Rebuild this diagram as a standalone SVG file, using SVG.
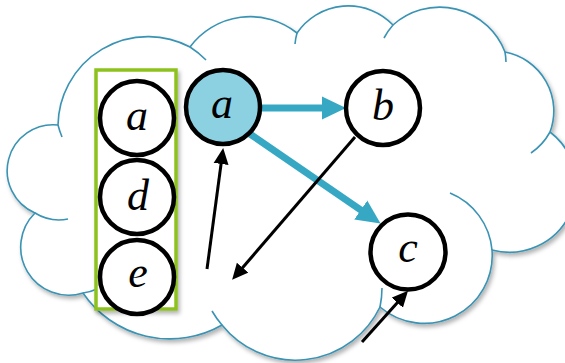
<svg xmlns="http://www.w3.org/2000/svg" width="565" height="363" viewBox="0 0 565 363">
<style>
.cloud{fill:#fff;stroke:#3a93b4;stroke-width:1.6}
.tail{fill:none;stroke:#3a93b4;stroke-width:1.6}
.node{fill:#fff;stroke:#000;stroke-width:4.5}
.hl{fill:#8bd1e2}
.lbl{font-family:"Liberation Serif","Times New Roman",serif;font-style:italic;font-size:44px;fill:#000;text-anchor:middle}
.teal{stroke:#37a8c4;stroke-width:7;fill:none}
.blk{stroke:#000;stroke-width:3;fill:none}
</style>
<defs>
<filter id="sh" x="-10%" y="-10%" width="130%" height="130%">
<feDropShadow dx="2" dy="3" stdDeviation="2" flood-color="#000" flood-opacity="0.3"/>
</filter>
<marker id="mt" markerUnits="userSpaceOnUse" markerWidth="24" markerHeight="24" viewBox="0 0 24 24" refX="10" refY="12" orient="auto">
<path d="M0,0.5 L24,12 L0,23.5 z" fill="#37a8c4"/>
</marker>
<marker id="mb" markerUnits="userSpaceOnUse" markerWidth="16" markerHeight="16" viewBox="0 0 16 16" refX="7" refY="8" orient="auto">
<path d="M0,0.5 L16,8 L0,15.5 z" fill="#000"/>
</marker>
</defs>
<g id="cloud">
<path class="cloud" filter="url(#sh)" d="M58,125 A90,90 0 0 1 190,47 A75,75 0 0 1 297,33 A62,62 0 0 1 393,25 A70,70 0 0 1 505,52 A60,60 0 0 1 550,132 A67,67 0 0 1 492,250 A68,68 0 0 1 380,307 A94,94 0 0 1 222,325 A105,105 0 0 1 83,293 A48,48 0 0 1 35,213 A46,46 0 0 1 58,125 Z"/>
<path class="tail" d="M58,125 A90,90 0 0 0 62,137 M190,47 A90,90 0 0 1 206,60 M297,33 A62,62 0 0 0 295,44 M393,25 A70,70 0 0 0 384,38 M505,52 A70,70 0 0 1 506,62 M550,132 A60,60 0 0 1 531,153 M450,193 A68,68 0 0 1 492,250 M380,307 A94,94 0 0 0 382,288 M222,325 A94,94 0 0 1 212,311 M83,293 A48,48 0 0 0 97,289 M35,213 A46,46 0 0 0 68,219"/>
</g>
<g id="stack">
<rect x="96" y="70" width="80" height="239" fill="#fff" stroke="#8dc21f" stroke-width="3.5" filter="url(#sh)"/>
</g>
<g id="connectors">
<line class="teal" x1="258" y1="108" x2="332" y2="108" marker-end="url(#mt)"/>
<line class="teal" x1="250" y1="134" x2="369" y2="215.7" marker-end="url(#mt)"/>
<line class="blk" x1="207" y1="269" x2="222" y2="157" marker-end="url(#mb)"/>
<line class="blk" x1="355" y1="137" x2="238" y2="273" marker-end="url(#mb)"/>
<line class="blk" x1="362" y1="342" x2="402" y2="297.5" marker-end="url(#mb)"/>
</g>
<g id="node-a1"><circle class="node" cx="137" cy="118" r="37"/><text class="lbl" x="137" y="130">a</text></g>
<g id="node-d"><circle class="node" cx="137" cy="197" r="37"/><text class="lbl" x="138" y="210">d</text></g>
<g id="node-e"><circle class="node" cx="137" cy="277" r="37"/><text class="lbl" x="138" y="287">e</text></g>
<g id="node-a"><circle class="node hl" cx="223" cy="107" r="37"/><text class="lbl" x="222" y="118">a</text></g>
<g id="node-b"><circle class="node" cx="383" cy="108" r="37"/><text class="lbl" x="383" y="120">b</text></g>
<g id="node-c"><circle class="node" cx="408" cy="252" r="37.5"/><text class="lbl" x="408" y="262">c</text></g>
</svg>
